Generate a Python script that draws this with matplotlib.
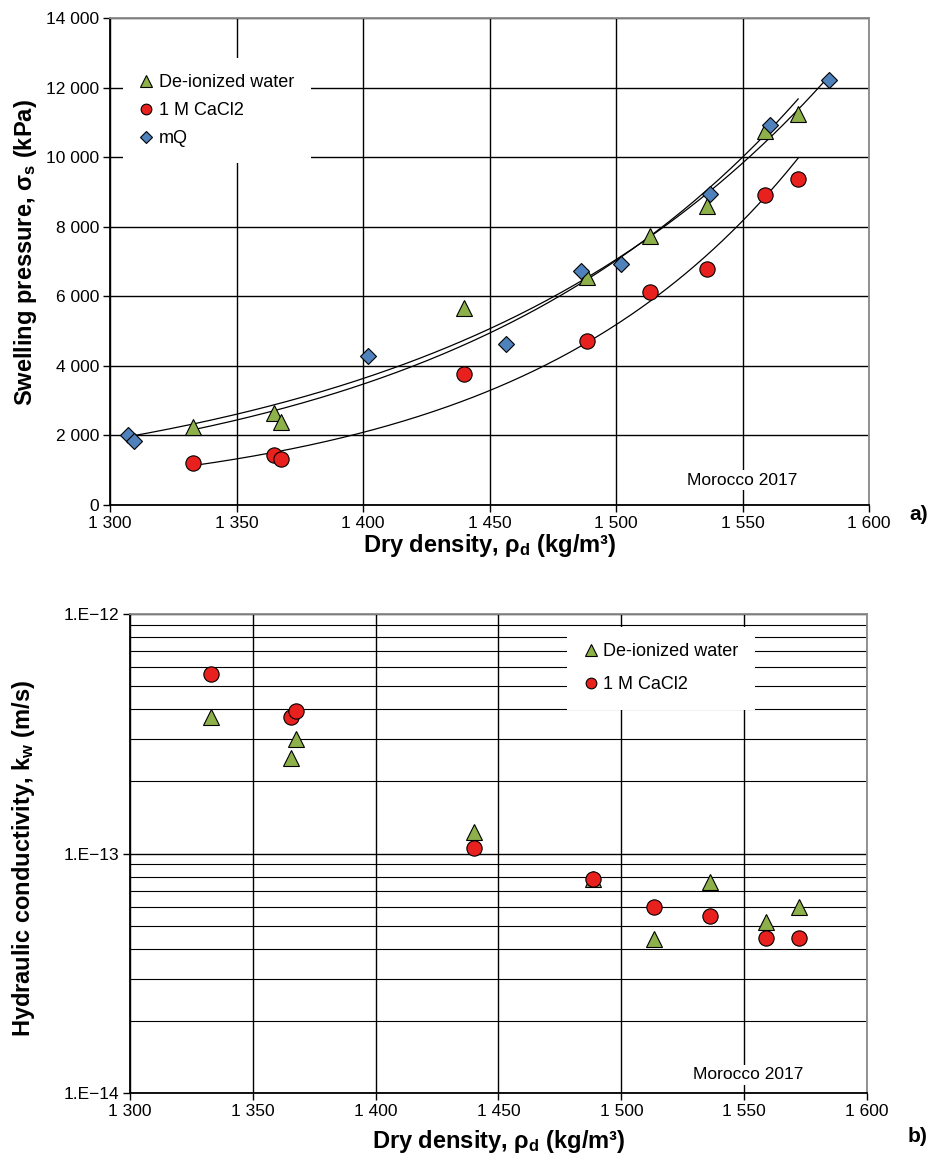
import numpy as np
import matplotlib
matplotlib.use("Agg")
import matplotlib.pyplot as plt
from matplotlib.ticker import FuncFormatter, MultipleLocator, LogLocator, NullFormatter

plt.rcParams['font.family'] = ['Liberation Sans', 'DejaVu Sans']
plt.rcParams['mathtext.fontset'] = 'custom'
plt.rcParams['mathtext.rm'] = 'Liberation Sans'
plt.rcParams['mathtext.it'] = 'Liberation Sans'
plt.rcParams['mathtext.bf'] = 'Liberation Sans:bold'

GREEN = '#8DB04A'
RED = '#E8201E'
BLUE = '#4F81BD'

# a) swelling pressure
dens_di = [1333, 1365, 1367.5, 1440, 1488.5, 1513.5, 1536, 1559, 1572]
sw_di = [2250, 2640, 2390, 5650, 6550, 7740, 8590, 10750, 11230]

dens_ca = [1333, 1365, 1367.5, 1440, 1488.5, 1513.5, 1536, 1559, 1572]
sw_ca = [1200, 1440, 1320, 3760, 4710, 6110, 6790, 8900, 9360]

dens_mq = [1307, 1309.5, 1402, 1456.5, 1486, 1502, 1537, 1561, 1584]
sw_mq = [2020, 1850, 4290, 4620, 6730, 6920, 8930, 10910, 12230]

# b) hydraulic conductivity
dens_k = [1333, 1365.5, 1367.5, 1440, 1488.5, 1513.5, 1536, 1559, 1572.5]
k_di = [3.7e-13, 2.5e-13, 3.0e-13, 1.23e-13, 7.8e-14, 4.4e-14, 7.6e-14, 5.2e-14, 6.0e-14]
k_ca = [5.6e-13, 3.7e-13, 3.95e-13, 1.05e-13, 7.8e-14, 6.0e-14, 5.5e-14, 4.45e-14, 4.45e-14]

x_ticks = [1300, 1350, 1400, 1450, 1500, 1550, 1600]


def space_fmt(v, pos):
    return '{:,.0f}'.format(v).replace(',', ' ')


def exp_fit(x, y):
    b, a = np.polyfit(x, np.log(y), 1)
    xs = np.linspace(min(x), max(x), 200)
    return xs, np.exp(a + b * xs)


def style_axes(ax):
    ax.set_xlim(1300, 1600)
    ax.set_xticks(x_ticks)
    ax.xaxis.set_major_formatter(FuncFormatter(space_fmt))
    ax.grid(True, which='major', color='black', lw=1.0)
    ax.set_axisbelow(True)
    for s in ['left', 'bottom']:
        ax.spines[s].set_color('black')
        ax.spines[s].set_linewidth(1.3)
    for s in ['top', 'right']:
        ax.spines[s].set_color('#8a8a8a')
        ax.spines[s].set_linewidth(1.3)
    ax.tick_params(axis='both', which='major', direction='out', length=5,
                   width=1, labelsize=12.5, pad=3)


fig = plt.figure(figsize=(9.39, 11.62), dpi=100)

# ---- a) ----
ax1 = fig.add_axes([110 / 939, 1 - 505 / 1162, 759 / 939, 487 / 1162])
style_axes(ax1)
ax1.set_ylim(0, 14000)
ax1.yaxis.set_major_locator(MultipleLocator(2000))
ax1.yaxis.set_major_formatter(FuncFormatter(space_fmt))

for dx, dy in [(dens_di, sw_di), (dens_mq, sw_mq), (dens_ca, sw_ca)]:
    xs, ys = exp_fit(dx, dy)
    ax1.plot(xs, ys, color='black', lw=0.9, zorder=2)

ax1.plot(dens_di, sw_di, ls='none', marker='^', ms=12, mfc=GREEN, mec='black',
         mew=0.8, label='De-ionized water', zorder=3)
ax1.plot(dens_ca, sw_ca, ls='none', marker='o', ms=11, mfc=RED, mec='black',
         mew=0.8, label='1 M CaCl2', zorder=3)
ax1.plot(dens_mq, sw_mq, ls='none', marker='D', ms=8.5, mfc=BLUE, mec='black',
         mew=0.8, label='mQ', zorder=4)

ax1.legend(loc='upper left', bbox_to_anchor=(0.017, 0.918), fontsize=13,
           frameon=True, fancybox=False, edgecolor='none', facecolor='white',
           framealpha=1, markerscale=0.7, handlelength=0.8, handletextpad=0.3,
           labelspacing=0.6, borderpad=0.9, borderaxespad=0)
ax1.text(0.833, 0.051, 'Morocco 2017', transform=ax1.transAxes, fontsize=12.5,
         ha='center', va='center',
         bbox=dict(facecolor='white', edgecolor='none', pad=2))
ax1.set_xlabel(r'Dry density, $\mathbf{\rho_d}$ (kg/m³)', fontsize=17,
               fontweight='bold')
ax1.set_ylabel(r'Swelling pressure, $\mathbf{\sigma_s}$ (kPa)', fontsize=17,
               fontweight='bold')
ax1.xaxis.set_label_coords(0.5, -0.055)
ax1.yaxis.set_label_coords(-0.094, 0.518)

# ---- b) ----
ax2 = fig.add_axes([130 / 939, 1 - 1093 / 1162, 737 / 939, 479 / 1162])
ax2.set_yscale('log')
style_axes(ax2)
ax2.set_ylim(1e-14, 1e-12)
ax2.yaxis.set_major_locator(LogLocator(base=10, numticks=5))
ax2.yaxis.set_minor_locator(LogLocator(base=10, subs=np.arange(2, 10), numticks=20))
ax2.yaxis.set_major_formatter(FuncFormatter(
    lambda v, pos: '1.E\u2212{:d}'.format(int(round(-np.log10(v))))))
ax2.yaxis.set_minor_formatter(NullFormatter())
ax2.grid(True, which='minor', axis='y', color='black', lw=0.8)
ax2.tick_params(axis='y', which='minor', length=0)

ax2.plot(dens_k, k_di, ls='none', marker='^', ms=12, mfc=GREEN, mec='black',
         mew=0.8, label='De-ionized water', zorder=3)
ax2.plot(dens_k, k_ca, ls='none', marker='o', ms=11, mfc=RED, mec='black',
         mew=0.8, label='1 M CaCl2', zorder=4)

ax2.legend(loc='upper left', bbox_to_anchor=(0.593, 0.973), fontsize=13,
           frameon=True, fancybox=False, edgecolor='none', facecolor='white',
           framealpha=1, markerscale=0.7, handlelength=0.8, handletextpad=0.3,
           labelspacing=0.9, borderpad=0.9, borderaxespad=0)
ax2.text(0.839, 0.038, 'Morocco 2017', transform=ax2.transAxes, fontsize=12.5,
         ha='center', va='center',
         bbox=dict(facecolor='white', edgecolor='none', pad=2))
ax2.set_xlabel(r'Dry density, $\mathbf{\rho_d}$ (kg/m³)', fontsize=17,
               fontweight='bold')
ax2.set_ylabel(r'Hydraulic conductivity, $\mathbf{k_w}$ (m/s)', fontsize=17,
               fontweight='bold')
ax2.xaxis.set_label_coords(0.5, -0.073)
ax2.yaxis.set_label_coords(-0.126, 0.49)

fig.text(0.988, 1 - 515 / 1162, 'a)', fontsize=15, fontweight='bold',
         ha='right', va='center')
fig.text(0.988, 1 - 1137 / 1162, 'b)', fontsize=15, fontweight='bold',
         ha='right', va='center')

fig.savefig('out.png', dpi=100)
